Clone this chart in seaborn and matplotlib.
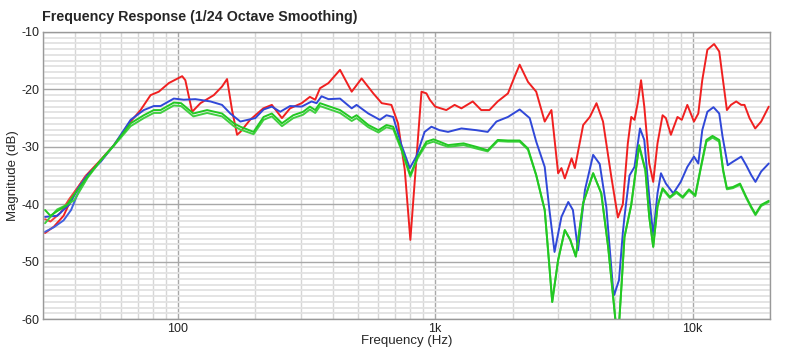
import numpy as np
import pandas as pd
import matplotlib
matplotlib.use("Agg")
import matplotlib.pyplot as plt
import seaborn as sns
from matplotlib.ticker import FixedLocator, FixedFormatter, NullFormatter

# Datos (Hz, dB)
red_f = [30.5, 33, 36, 39.6, 44, 49.4, 56.5, 65.6, 71.7, 78.4, 84.4, 92.3, 104, 107, 113.7,
         122.5, 138, 148.6, 155.4, 162.5, 170, 175, 191, 215, 232, 254, 273, 303, 326, 342,
         357, 385, 427, 474, 518, 575, 620, 676, 717, 762, 801, 845, 885, 925, 953, 1000,
         1105, 1190, 1265, 1400, 1510, 1625, 1750, 1918, 2035, 2130, 2295, 2470, 2665, 2830,
         3005, 3095, 3190, 3390, 3490, 3760, 3990, 4235, 4490, 4835, 5130, 5360, 5605, 5780,
         5950, 6125, 6310, 6495, 6790, 7035, 7310, 7650, 7880, 8240, 8740, 9085, 9545, 10130,
         10530, 10910, 11420, 12130, 12700, 13080, 13600, 14100, 14780, 15460, 15920, 16650,
         17520, 18480, 19780]
red_db = [-45.0, -43.9, -42.0, -38.0, -35.0, -32.6, -29.7, -25.6, -23.6, -21.0, -20.4, -18.9,
          -17.7, -18.4, -23.9, -22.4, -21.0, -19.5, -18.2, -23.6, -27.9, -27.4, -25.3, -23.3,
          -22.7, -25.0, -23.3, -22.4, -21.3, -21.8, -19.8, -18.9, -16.6, -20.4, -18.1, -20.7,
          -22.4, -22.7, -25.9, -34.0, -46.2, -32.3, -20.4, -20.7, -21.8, -23.0, -23.6, -22.7,
          -23.3, -22.1, -23.6, -23.6, -22.1, -20.7, -17.8, -15.7, -18.7, -20.4, -25.6, -23.6,
          -34.6, -33.7, -35.5, -32.0, -33.7, -26.2, -24.8, -22.4, -25.6, -35.2, -42.3, -40.0,
          -29.4, -24.8, -25.3, -22.4, -18.4, -23.0, -32.9, -36.1, -29.4, -24.5, -25.0, -27.9,
          -24.8, -25.3, -22.7, -25.6, -24.2, -18.4, -13.1, -12.1, -13.4, -17.8, -23.6, -22.7,
          -22.1, -22.7, -22.7, -25.0, -26.8, -25.6, -23.0]

# segunda curva roja (solo difiere en graves)
red2_f = [30.5, 32, 35, 38, 41, 44]
red2_db = [-42.6, -43.0, -41.5, -39.0, -37.0, -35.0]

blue_f = [30.5, 34, 38, 41, 44.6, 50.2, 56.5, 65.6, 73.8, 80.7, 85.7, 96.5, 105.5, 117, 134,
          148.6, 160, 175, 200, 215.5, 232, 250, 273, 303, 331, 346, 362, 385, 427, 474, 495,
          550, 610, 647, 687, 740, 797, 845, 910, 967, 1040, 1122, 1265, 1445, 1600, 1730,
          1918, 2130, 2330, 2470, 2665, 2780, 2910, 3095, 3290, 3430, 3590, 3820, 4110, 4360,
          4625, 4905, 4960, 5180, 5360, 5440, 5690, 5950, 6250, 6495, 6790, 7035, 7310, 7540,
          7880, 8420, 9000, 9545, 10130, 10530, 10910, 11420, 12060, 12700, 13080, 13700,
          14350, 15460, 16160, 16900, 17560, 18480, 19780]
blue_db = [-42.2, -42.0, -40.0, -37.2, -34.9, -32.6, -29.7, -25.3, -23.6, -22.9, -22.9, -21.6,
           -21.8, -21.7, -22.1, -22.7, -24.2, -25.6, -25.0, -23.5, -23.0, -23.9, -22.9, -23.0,
           -22.1, -22.4, -21.2, -21.7, -21.6, -23.3, -22.7, -24.2, -25.3, -24.5, -24.8, -29.7,
           -33.7, -31.7, -27.4, -26.5, -27.1, -27.4, -26.8, -27.1, -27.4, -25.6, -24.8, -23.5,
           -25.0, -29.1, -33.5, -41.0, -48.3, -42.2, -39.6, -41.0, -48.0, -37.5, -31.4, -33.0,
           -40.5, -54.4, -55.8, -53.2, -45.0, -42.2, -35.0, -33.5, -26.8, -28.8, -38.7, -45.4,
           -38.1, -34.6, -36.4, -38.1, -36.1, -33.5, -31.7, -32.9, -27.1, -23.9, -23.1, -24.2,
           -28.2, -33.2, -32.6, -31.7, -33.2, -34.9, -36.1, -34.3, -32.9]

blue2_f = [30.5, 33, 36, 38.5, 41, 44.6]
blue2_db = [-44.8, -44.0, -42.8, -41.0, -38.0, -35.2]

green_f = [30.5, 32, 34, 37, 39.6, 44.6, 50.2, 56.5, 65.6, 73.8, 80.7, 85.7, 96.5, 103, 115,
           130, 148.6, 165, 175, 197, 215.5, 232, 254, 281, 307, 326, 342, 357, 373, 427, 474,
           495, 550, 602, 647, 687, 740, 801, 855, 925, 985, 1040, 1122, 1290, 1445, 1600, 1750,
           1918, 2130, 2295, 2470, 2665, 2780, 2850, 3005, 3190, 3350, 3520, 3760, 4110, 4420,
           4700, 4930, 5050, 5180, 5300, 5440, 5780, 6200, 6560, 6790, 7035, 7310, 7650, 8160,
           8660, 9160, 9690, 10250, 10720, 11320, 11960, 12700, 13150, 13600, 14350, 15300,
           16160, 16900, 17560, 18480, 19780]
green_db = [-41.0, -42.0, -41.2, -40.2, -38.3, -35.2, -32.3, -29.7, -25.9, -24.5, -23.6, -23.6,
            -22.3, -22.4, -24.2, -23.6, -24.2, -25.9, -26.5, -27.4, -24.8, -24.2, -25.9, -24.5,
            -23.9, -23.0, -23.6, -22.4, -22.7, -23.6, -25.0, -24.5, -26.2, -27.1, -26.2, -26.5,
            -30.3, -34.9, -31.7, -29.1, -28.7, -29.1, -29.7, -29.4, -30.0, -30.6, -28.8, -28.9,
            -28.9, -30.3, -34.9, -41.0, -50.9, -57.0, -49.7, -44.5, -46.2, -49.1, -39.8, -34.6,
            -38.1, -47.4, -56.7, -61.5, -61.0, -54.0, -45.7, -40.1, -29.7, -34.0, -42.2, -47.4,
            -40.4, -37.2, -38.7, -37.8, -38.7, -37.4, -38.4, -34.0, -28.8, -28.1, -28.8, -34.0,
            -37.2, -37.0, -36.4, -38.7, -40.4, -41.7, -40.1, -39.4]

green2_f = green_f
green2_db = [-43.3, -42.2, -40.9, -40.1, -39.3, -35.4, -32.4, -29.8, -26.4, -25.0, -24.1, -24.1,
             -22.8, -22.9, -24.7, -24.1, -24.7, -26.4, -27.0, -27.8, -25.3, -24.7, -26.4, -25.0,
             -24.4, -23.5, -24.1, -22.9, -23.2, -24.1, -25.5, -25.0, -26.6, -27.5, -26.6, -26.9,
             -30.6, -35.2, -32.0, -29.5, -29.1, -29.5, -30.0, -29.7, -30.3, -30.8, -29.0, -29.1,
             -29.1, -30.5, -35.0, -41.0, -50.9, -57.0, -49.7, -44.5, -46.2, -49.1, -39.8, -34.6,
             -38.1, -47.4, -56.7, -61.5, -61.0, -54.0, -45.7, -40.1, -29.9, -34.2, -42.2, -47.4,
             -40.4, -37.4, -38.9, -38.0, -38.9, -37.6, -38.6, -34.2, -29.1, -28.4, -29.1, -34.2,
             -37.4, -37.2, -36.6, -38.9, -40.6, -41.9, -40.3, -39.6]

series = [
    (red_f, red_db, "#f02020"),
    (red2_f, red2_db, "#f04040"),
    (blue_f, blue_db, "#3048d8"),
    (blue2_f, blue2_db, "#4060e0"),
    (green2_f, green2_db, "#40d040"),
    (green_f, green_db, "#22c822"),
]

# Figura
sns.set_style("white")
plt.rcParams['font.family'] = ['Liberation Sans', 'DejaVu Sans']
plt.rcParams['axes.unicode_minus'] = False

fig = plt.figure(figsize=(8, 3.55), dpi=100)
ax = fig.add_axes([0.054, 0.101, 0.9085, 0.809])

for f, db, col in series:
    sns.lineplot(x=f, y=db, ax=ax, color=col, linewidth=1.4, sort=False, estimator=None)

ax.set_xscale("log")
ax.set_xlim(30, 20000)
ax.set_ylim(-60, -10)

# Rejilla
ax.xaxis.set_major_locator(FixedLocator([100, 1000, 10000]))
ax.xaxis.set_major_formatter(FixedFormatter(["100", "1k", "10k"]))
minors = [m * d for d in [10, 100, 1000, 10000] for m in range(2, 10)]
ax.xaxis.set_minor_locator(FixedLocator([v for v in minors if 30 <= v <= 20000]))
ax.xaxis.set_minor_formatter(NullFormatter())
ax.yaxis.set_major_locator(FixedLocator(list(range(-60, -9, 10))))
ax.yaxis.set_minor_locator(FixedLocator([v for v in range(-60, -9) if v % 10 != 0]))

ax.grid(which="major", color="#a8a8a8", linewidth=1.0)
ax.xaxis.grid(which="minor", color="#d6d6d6", linewidth=1.0)
ax.yaxis.grid(which="minor", color="#e2e2e2", linewidth=1.3)
ax.set_axisbelow(True)

ax.tick_params(which="both", length=0, labelsize=9, colors="#222222", pad=3)
for s in ax.spines.values():
    s.set_color("#999999")
    s.set_linewidth(1.0)

fig.text(0.508, 0.04, "Frequency (Hz)", fontsize=9.5, ha="center", va="center")
fig.text(0.016, 0.505, "Magnitude (dB)", fontsize=9.5, ha="center", va="center", rotation=90)
fig.text(0.053, 0.952, "Frequency Response (1/24 Octave Smoothing)", fontsize=10.3,
         fontweight="bold", ha="left", va="center")

fig.savefig("out.png", dpi=100, facecolor="white")
